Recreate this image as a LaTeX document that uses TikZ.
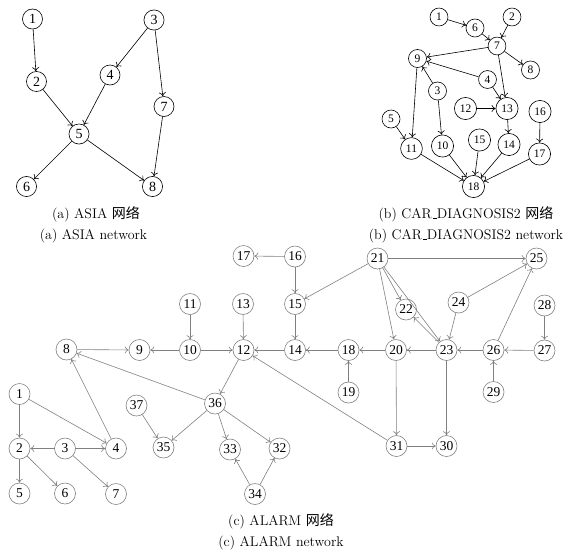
\documentclass[tikz,border=0pt]{standalone}
\usepackage{fontspec}
\usepackage{tikz}
\usetikzlibrary{arrows.meta}
\newfontfamily\numfont{Liberation Serif}
\newfontfamily\cjk{Noto Sans CJK SC}
\definecolor{algray}{RGB}{128,128,128}
\newcommand{\lowbar}{\kern.06em\vbox{\hrule width .3em}}

\begin{document}
\begin{tikzpicture}[x=1pt, y=-1pt,
  anode/.style={circle, draw=black, line width=0.6pt, inner sep=3pt, minimum size=20pt, font=\numfont\fontsize{14}{14}\selectfont},
  bnode/.style={circle, draw=black, line width=0.6pt, inner sep=3pt, font=\numfont\fontsize{11.5}{11.5}\selectfont},
  cnode/.style={circle, draw=algray, line width=0.6pt, inner sep=1.5pt, minimum size=21pt, font=\numfont\fontsize{13.5}{13.5}\selectfont},
  aedge/.style={-{To[length=4pt,width=7pt]}, black, line width=0.6pt},
  cedge/.style={-{To[length=4pt,width=7pt]}, algray, line width=0.6pt},
  caption/.style={font=\fontsize{14}{16}\selectfont}]
\useasboundingbox (0,0) rectangle (577,555);

% (a) ASIA network
\node[anode] (a1) at (32.5,19) {1};
\node[anode] (a2) at (36.5,81.5) {2};
\node[anode] (a3) at (154,20) {3};
\node[anode] (a4) at (110,75) {4};
\node[anode] (a5) at (79,134) {5};
\node[anode] (a6) at (26.5,186.5) {6};
\node[anode] (a7) at (164,106.5) {7};
\node[anode] (a8) at (152.5,186.5) {8};
\draw[aedge] (a1) -- (a2);
\draw[aedge] (a3) -- (a4);
\draw[aedge] (a3) -- (a7);
\draw[aedge] (a2) -- (a5);
\draw[aedge] (a4) -- (a5);
\draw[aedge] (a5) -- (a6);
\draw[aedge] (a5) -- (a8);
\draw[aedge] (a7) -- (a8);
\node[caption] (capa1) at (96,214) {(a) ASIA {\cjk 网络}};
\node[caption] (capa2) at (93.5,235.5) {(a) ASIA network};

% (b) CAR_DIAGNOSIS2 network
\node[bnode] (b1) at (439,17) {1};
\node[bnode] (b2) at (512,17) {2};
\node[bnode] (b3) at (437.5,91) {3};
\node[bnode] (b4) at (487.5,79.5) {4};
\node[bnode] (b5) at (391,119) {5};
\node[bnode] (b6) at (475,28) {6};
\node[bnode] (b7) at (497,46) {7};
\node[bnode] (b8) at (530.5,70) {8};
\node[bnode] (b9) at (417.5,58.5) {9};
\node[bnode] (b10) at (442.5,146) {10};
\node[bnode] (b11) at (411.5,148.5) {11};
\node[bnode] (b12) at (465.5,108.5) {12};
\node[bnode] (b13) at (507,108.5) {13};
\node[bnode] (b14) at (509,144.5) {14};
\node[bnode] (b15) at (479.5,140) {15};
\node[bnode] (b16) at (540,111.5) {16};
\node[bnode] (b17) at (539.5,154) {17};
\node[bnode] (b18) at (473.5,186.5) {18};
\draw[aedge] (b1) -- (b6);
\draw[aedge] (b6) -- (b7);
\draw[aedge] (b2) -- (b7);
\draw[aedge] (b7) -- (b9);
\draw[aedge] (b7) -- (b8);
\draw[aedge] (b7) -- (b13);
\draw[aedge] (b4) -- (b9);
\draw[aedge] (b4) -- (b13);
\draw[aedge] (b3) -- (b9);
\draw[aedge] (b3) -- (b10);
\draw[aedge] (b9) -- (b11);
\draw[aedge] (b5) -- (b11);
\draw[aedge] (b12) -- (b13);
\draw[aedge] (b13) -- (b14);
\draw[aedge] (b16) -- (b17);
\draw[aedge] (b11) -- (b18);
\draw[aedge] (b10) -- (b18);
\draw[aedge] (b15) -- (b18);
\draw[aedge] (b14) -- (b18);
\draw[aedge] (b17) -- (b18);
\node[caption] (capb1) at (466,214) {(b) CAR\lowbar DIAGNOSIS2 {\cjk 网络}};
\node[caption] (capb2) at (466,235.5) {(b) CAR\lowbar DIAGNOSIS2 network};

% (c) ALARM network
\node[cnode] (c1) at (19.5,394) {1};
\node[cnode] (c2) at (19.5,448.5) {2};
\node[cnode] (c3) at (65,448.5) {3};
\node[cnode] (c4) at (116,448.5) {4};
\node[cnode] (c5) at (19.5,493.5) {5};
\node[cnode] (c6) at (65,493.5) {6};
\node[cnode] (c7) at (116,494) {7};
\node[cnode] (c8) at (66.5,349.5) {8};
\node[cnode] (c9) at (139.5,350) {9};
\node[cnode] (c10) at (190,350) {10};
\node[cnode] (c11) at (190,304) {11};
\node[cnode] (c12) at (243.5,350) {12};
\node[cnode] (c13) at (243,304) {13};
\node[cnode] (c14) at (295,350) {14};
\node[cnode] (c15) at (295,304) {15};
\node[cnode] (c16) at (295,256.5) {16};
\node[cnode] (c17) at (243.5,256) {17};
\node[cnode] (c18) at (348.5,350) {18};
\node[cnode] (c19) at (348.5,392.5) {19};
\node[cnode] (c20) at (396,350) {20};
\node[cnode] (c21) at (377.5,258.5) {21};
\node[cnode] (c22) at (406,309.5) {22};
\node[cnode] (c23) at (446.5,350) {23};
\node[cnode] (c24) at (458.5,302.5) {24};
\node[cnode] (c25) at (536.5,258.5) {25};
\node[cnode] (c26) at (493.5,350) {26};
\node[cnode] (c27) at (544.5,350.5) {27};
\node[cnode] (c28) at (544.5,305.5) {28};
\node[cnode] (c29) at (493.5,392) {29};
\node[cnode] (c30) at (446.5,446) {30};
\node[cnode] (c31) at (396.5,446) {31};
\node[cnode] (c32) at (279.5,448.5) {32};
\node[cnode] (c33) at (230,449.5) {33};
\node[cnode] (c34) at (255,494) {34};
\node[cnode] (c35) at (163.5,447.5) {35};
\node[cnode] (c36) at (215,403.5) {36};
\node[cnode] (c37) at (136.5,405.5) {37};
% left part
\draw[cedge] (c1) -- (c2);
\draw[cedge] (c1) -- (c4);
\draw[cedge] (c3) -- (c2);
\draw[cedge] (c3) -- (c4);
\draw[cedge] (c3) -- (c7);
\draw[cedge] (c2) -- (c5);
\draw[cedge] (c2) -- (c6);
\draw[cedge] (c4) -- (c8);
\draw[cedge] (c8) -- (c9);
\draw[cedge] (c10) -- (c9);
\draw[cedge] (c10) -- (c12);
\draw[cedge] (c11) -- (c10);
\draw[cedge] (c13) -- (c12);
\draw[cedge] (c14) -- (c12);
\draw[cedge] (c15) -- (c14);
\draw[cedge] (c16) -- (c15);
\draw[cedge] (c16) -- (c17);
\draw[cedge] (c12) -- (c36);
\draw[cedge] (c36) -- (c8);
\draw[cedge] (c36) -- (c35);
\draw[cedge] (c36) -- (c33);
\draw[cedge] (c36) -- (c32);
\draw[cedge] (c37) -- (c35);
\draw[cedge] (c34) -- (c33);
\draw[cedge] (c34) -- (c32);
% right part
\draw[cedge] (c21) -- (c25);
\draw[cedge] (c21) -- (c15);
\draw[cedge] (c21) -- (c22);
\draw[cedge] (c21) -- (c20);
\draw[cedge] (c21) -- (c23);
\draw[cedge] (c24) -- (c25);
\draw[cedge] (c24) -- (c23);
\draw[cedge] (c23) -- (c22);
\draw[cedge] (c23) -- (c20);
\draw[cedge] (c23) -- (c30);
\draw[cedge] (c26) -- (c23);
\draw[cedge] (c26) -- (c25);
\draw[cedge] (c27) -- (c26);
\draw[cedge] (c28) -- (c27);
\draw[cedge] (c29) -- (c26);
\draw[cedge] (c20) -- (c18);
\draw[cedge] (c20) -- (c31);
\draw[cedge] (c18) -- (c14);
\draw[cedge] (c19) -- (c18);
\draw[cedge] (c31) -- (c30);
\draw[cedge] (c31) -- (c12);
\node[caption] (capc1) at (281,521) {(c) ALARM {\cjk 网络}};
\node[caption] (capc2) at (281,543) {(c) ALARM network};
\end{tikzpicture}
\end{document}
